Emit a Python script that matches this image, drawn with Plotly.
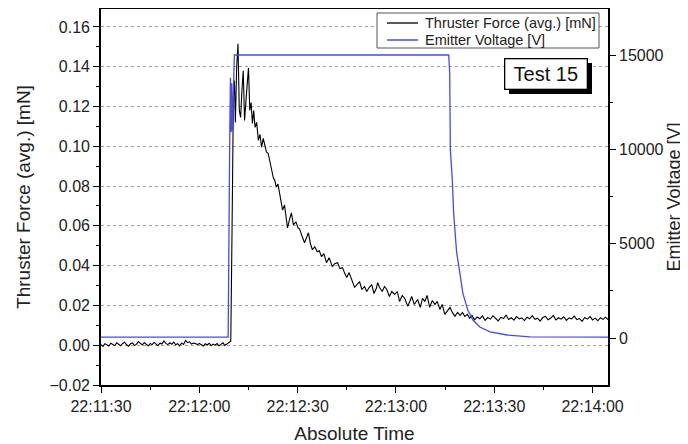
import plotly.graph_objects as go
import pandas as pd

# ---------------- data (seconds after 22:11:30) ----------------
force_t = [
    0.0, 0.6, 1.2, 1.8, 2.4, 3.0, 3.6, 4.2, 4.8, 5.4, 6.0, 6.6, 7.2, 7.8, 8.4, 9.0, 9.6, 10.2, 10.8, 11.4,
    12.0, 12.6, 13.2, 13.8, 14.4, 15.0, 15.6, 16.2, 16.8, 17.4, 18.0, 18.6, 19.2, 19.8, 20.4, 21.0, 21.6, 22.2,
    22.8, 23.4, 24.0, 24.6, 25.2, 25.8, 26.4, 27.0, 27.6, 28.2, 28.8, 29.4, 30.0, 30.6, 31.2, 31.8, 32.4, 33.0,
    33.6, 34.2, 34.8, 35.4, 36.0, 36.6, 37.2, 37.8, 38.4, 39.0,
    39.6, 40.0, 40.4, 40.7, 41.0, 41.4, 41.8, 42.2, 42.6, 43.0, 43.4, 43.8, 44.2, 44.6, 45.0, 45.4, 45.8, 46.2,
    46.6, 47.0, 47.5, 48.0, 48.5, 49.0, 49.5, 50.0, 50.5, 51.0, 51.5, 52.0, 52.6, 53.0, 53.5, 54.0, 54.4, 55.0,
    55.4, 56.0, 56.9, 57.5, 58.1, 58.7, 59.5, 60.1, 60.6, 61.3, 62.1, 62.7, 63.3, 63.9, 64.5, 65.2, 66.0, 66.6,
    67.3, 68.0, 68.8, 69.6, 70.6, 71.3, 72.2, 72.9, 73.7, 74.4, 75.0, 75.7, 76.5, 77.4, 78.1, 78.9, 79.6, 80.4,
    81.1, 81.8, 82.6, 83.3, 84.0, 84.4, 85.0, 85.8, 86.5, 87.2, 88.0, 88.7, 89.6, 90.4, 91.1, 91.9, 92.7, 93.6,
    94.2, 94.8, 95.6, 96.6, 97.4, 98.1, 98.8, 99.5, 100.3, 101.1, 101.9, 102.6, 103.4, 104.1, 104.9, 105.7,
    106.5, 107.2, 108.0, 108.8, 109.6, 110.3, 111.0, 111.8, 112.5,
    113.2, 114.0, 114.8, 115.6, 116.4, 117.2, 118.0, 118.8, 119.6, 120.4, 121.2, 122.0, 122.8, 123.6, 124.4,
    125.2, 126.0, 126.8, 127.6, 128.4, 129.2, 130.0, 130.8, 131.6, 132.4, 133.2, 134.0, 134.8, 135.6, 136.4,
    137.2, 138.0, 138.8, 139.6, 140.4, 141.2, 142.0, 142.8, 143.6, 144.4, 145.2, 146.0, 146.8, 147.6, 148.4,
    149.2, 150.0, 150.8, 151.6, 152.4, 153.2, 154.0, 154.8,
]
force_mN = [
    0.0003, -0.0006, 0.0008, 0.0001, -0.0004, 0.0010, 0.0004, -0.0002, 0.0012, 0.0006, -0.0003, 0.0009, 0.0015,
    0.0002, -0.0005, 0.0007, 0.0011, -0.0001, 0.0004, 0.0018, 0.0008, 0.0001, 0.0013, 0.0005, -0.0004, 0.0009,
    0.0003, 0.0014, 0.0007, -0.0002, 0.0010, 0.0006, 0.0021, 0.0009, 0.0003, 0.0012, 0.0005, 0.0016, 0.0002,
    0.0008, -0.0003, 0.0011, 0.0004, 0.0024, 0.0013, 0.0017, 0.0006, 0.0011, 0.0008, 0.0003, 0.0009, 0.0002,
    -0.0004, 0.0007, 0.0001, 0.0010, -0.0002, 0.0005, 0.0000, 0.0008, -0.0003, 0.0004, 0.0012, -0.0001, 0.0006,
    0.0009,
    0.0020, 0.0600, 0.1250, 0.1330, 0.1120, 0.1400, 0.1515, 0.1180, 0.1145, 0.1280, 0.1380, 0.1130, 0.1200,
    0.1310, 0.1395, 0.1180, 0.1220, 0.1115, 0.1180, 0.1095, 0.1120, 0.1030, 0.1060, 0.0995, 0.1040, 0.1010,
    0.0970, 0.0965, 0.0920, 0.0895, 0.0840, 0.0830, 0.0795, 0.0810, 0.0770, 0.0710, 0.0680, 0.0705, 0.0590,
    0.0630, 0.0665, 0.0605, 0.0620, 0.0590, 0.0585, 0.0550, 0.0515, 0.0540, 0.0565, 0.0510, 0.0480, 0.0495,
    0.0470, 0.0475, 0.0445, 0.0460, 0.0415, 0.0440, 0.0395, 0.0410, 0.0415, 0.0385, 0.0390, 0.0360, 0.0340,
    0.0365, 0.0330, 0.0290, 0.0305, 0.0320, 0.0280, 0.0295, 0.0270, 0.0290, 0.0305, 0.0260, 0.0285, 0.0315,
    0.0290, 0.0270, 0.0295, 0.0280, 0.0245, 0.0270, 0.0255, 0.0270, 0.0220, 0.0250, 0.0235, 0.0195, 0.0220,
    0.0245, 0.0205, 0.0230, 0.0190, 0.0235, 0.0220, 0.0250, 0.0190, 0.0225, 0.0205, 0.0220, 0.0180, 0.0205,
    0.0155, 0.0175, 0.0190, 0.0165, 0.0145, 0.0165, 0.0150, 0.0165, 0.0145, 0.0155, 0.0135,
    0.0150, 0.0128, 0.0142, 0.0133, 0.0147, 0.0125, 0.0139, 0.0131, 0.0148, 0.0136, 0.0122, 0.0140, 0.0134,
    0.0151, 0.0129, 0.0138, 0.0126, 0.0144, 0.0132, 0.0137, 0.0124, 0.0141, 0.0133, 0.0149, 0.0130, 0.0136,
    0.0121, 0.0139, 0.0145, 0.0128, 0.0135, 0.0150, 0.0127, 0.0138, 0.0131, 0.0143, 0.0125, 0.0137, 0.0132,
    0.0146, 0.0129, 0.0134, 0.0120, 0.0139, 0.0131, 0.0144, 0.0127, 0.0136, 0.0123, 0.0138, 0.0130, 0.0141,
    0.0128,
]

voltage_t = [0.0, 38.8, 39.3, 39.5, 39.7, 39.9, 40.1, 40.4, 40.7, 106.1, 106.4, 106.6, 107.2, 107.6, 108.5,
             109.5, 110.4, 111.9, 113.5, 115.6, 118.7, 123.9, 130.9, 154.8]
voltage_V = [50, 50, 10900, 13800, 10900, 13500, 11000, 14000, 15000, 15000, 14040, 9960, 8370, 6620, 4560,
             3440, 2380, 1480, 950, 580, 320, 160, 60, 50]

start_time = "2000-01-01 22:11:30"
x_range_s = [0.0, 154.7]
x_tick_s = [0, 30, 60, 90, 120, 150]
x_minor_s = [15, 45, 75, 105, 135]
x_tick_labels = ["22:11:30", "22:12:00", "22:12:30", "22:13:00", "22:13:30", "22:14:00"]

series_names = ["Thruster Force (avg.) [mN]", "Emitter Voltage [V]"]
series_colors = ["black", "#4a4ae6"]
series_widths = [1.1, 1.3]

# ---------------- figure ----------------
base = pd.Timestamp(start_time)
def to_time(secs):
    return [base + pd.Timedelta(seconds=s) for s in secs]

# the page body adds an 8px offset, so the figure is 8px smaller than the window
W, H = 680, 436
ML, MR, MT, MB = 93, 80, 1, 59
PW, PH = W - ML - MR, H - MT - MB
OFF = 8

def px(xw):  # window pixel -> paper x
    return (xw - OFF - ML) / PW
def py(yw):  # window pixel -> paper y
    return 1 - (yw - OFF - MT) / PH

FONT = "Liberation Sans, Arial, sans-serif"
TXT = "#222222"

fig = go.Figure()
fig.add_trace(go.Scatter(x=to_time(force_t), y=force_mN, mode="lines", name=series_names[0],
                         line=dict(color=series_colors[0], width=series_widths[0]), yaxis="y"))
fig.add_trace(go.Scatter(x=to_time(voltage_t), y=voltage_V, mode="lines", name=series_names[1],
                         line=dict(color=series_colors[1], width=series_widths[1]), yaxis="y2"))

axis_common = dict(showline=True, linecolor="black", linewidth=1.6, ticks="outside", ticklen=6,
                   tickwidth=1.3, tickcolor="black", zeroline=False, automargin=False,
                   tickfont=dict(family=FONT, size=16, color=TXT))

fig.update_layout(
    width=W, height=H,
    margin=dict(l=ML, r=MR, t=MT, b=MB, pad=0),
    paper_bgcolor="white", plot_bgcolor="white",
    font=dict(family=FONT, color=TXT),
    showlegend=False,
    xaxis=dict(
        **axis_common, type="date", mirror=True,
        range=to_time(x_range_s),
        tickvals=to_time(x_tick_s), ticktext=x_tick_labels,
        showgrid=False,
        minor=dict(ticks="outside", ticklen=3, tickwidth=1.2, tickcolor="black",
                   tickvals=to_time(x_minor_s)),
        title=dict(text="Absolute Time", font=dict(family=FONT, size=19, color=TXT), standoff=15),
    ),
    yaxis=dict(
        **axis_common, mirror=True,
        range=[-0.02, 0.169], tick0=0, dtick=0.02, tickformat=".2f",
        showgrid=True, gridcolor="#a0a0a0", griddash="dot", gridwidth=1,
        minor=dict(ticks="outside", ticklen=3, tickwidth=1.2, tickcolor="black", dtick=0.01, showgrid=False),
        title=dict(text="Thruster Force (avg.) [mN]", font=dict(family=FONT, size=19, color=TXT), standoff=14),
    ),
    yaxis2=dict(
        **axis_common, overlaying="y", side="right",
        range=[-2491, 17438], tick0=0, dtick=5000, tickformat="d", showgrid=False,
        minor=dict(ticks="outside", ticklen=3, tickwidth=1.2, tickcolor="black", dtick=2500),
        title=dict(text="Emitter Voltage [V]", font=dict(family=FONT, size=18, color=TXT), standoff=1),
    ),
)

# legend box (drawn as a framed key like the original)
fig.add_shape(type="rect", xref="paper", yref="paper",
              x0=px(377), x1=px(599), y0=py(48), y1=py(13),
              fillcolor="white", line=dict(color="#555", width=1), layer="above")
for i, yy in enumerate([23, 40]):
    fig.add_shape(type="line", xref="paper", yref="paper",
                  x0=px(387), x1=px(418), y0=py(yy), y1=py(yy),
                  line=dict(color=series_colors[i], width=series_widths[i] + 0.2), layer="above")
    fig.add_annotation(x=px(423), y=py(yy), xref="paper", yref="paper", text=series_names[i],
                       xanchor="left", yanchor="middle", showarrow=False,
                       font=dict(family=FONT, size=14.5, color=TXT))

# "Test 15" label box with drop shadow
fig.add_shape(type="rect", xref="paper", yref="paper",
              x0=px(509), x1=px(592), y0=py(94), y1=py(63),
              fillcolor="black", line=dict(width=0), layer="above")
fig.add_annotation(x=px(545.5), y=py(73.5), xref="paper", yref="paper", text="Test 15",
                   xanchor="center", yanchor="middle",
                   showarrow=False, width=81, height=29, borderpad=0,
                   bgcolor="white", bordercolor="black", borderwidth=1.3,
                   font=dict(family=FONT, size=20, color="#111"))

fig.write_html("out.html")
